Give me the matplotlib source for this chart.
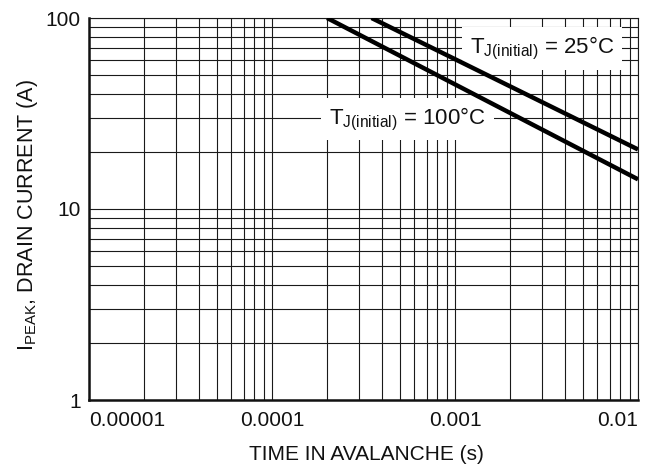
import matplotlib
matplotlib.use("Agg")
import matplotlib.pyplot as plt
from matplotlib.ticker import LogLocator, NullFormatter

plt.rcParams['font.family'] = ['Liberation Sans', 'DejaVu Sans']
plt.rcParams['mathtext.fontset'] = 'custom'
plt.rcParams['mathtext.rm'] = 'Liberation Sans'
plt.rcParams['mathtext.it'] = 'Liberation Sans'

# Data
t_25 = [3.5e-4, 1e-2]
i_25 = [100, 20.5]
t_100 = [2e-4, 1e-2]
i_100 = [100, 14.3]

x_ticks = [1e-5, 1e-4, 1e-3, 1e-2]
x_tick_labels = ["0.00001", "0.0001", "0.001", "0.01"]
y_ticks = [1, 10, 100]
y_tick_labels = ["1", "10", "100"]

label_25 = r"$\mathregular{T_{J(initial)}}$ = 25°C"
label_100 = r"$\mathregular{T_{J(initial)}}$ = 100°C"

fig = plt.figure(figsize=(6.55, 4.71), dpi=100)
ax = fig.add_axes([89/655, 71/471, 549/655, 382/471])
ax.set_xscale('log')
ax.set_yscale('log')
ax.set_xlim(1e-5, 1e-2)
ax.set_ylim(1, 100)

gc = '#1a1a1a'
ax.xaxis.set_minor_locator(LogLocator(base=10, subs=range(2, 10), numticks=20))
ax.yaxis.set_minor_locator(LogLocator(base=10, subs=range(2, 10), numticks=20))
ax.xaxis.set_minor_formatter(NullFormatter())
ax.yaxis.set_minor_formatter(NullFormatter())
ax.grid(True, which='both', color=gc, linewidth=0.8)
ax.set_axisbelow(True)

ax.set_xticks(x_ticks, x_tick_labels)
ax.set_yticks(y_ticks, y_tick_labels)
ax.tick_params(which='both', length=0)
ax.tick_params(axis='x', pad=8, labelsize=15, colors='#111111')
ax.tick_params(axis='y', pad=6, labelsize=15, colors='#111111')
xl = ax.get_xticklabels()
xl[0].set_horizontalalignment('left')
xl[-1].set_horizontalalignment('right')

for s in ['left', 'bottom']:
    ax.spines[s].set_linewidth(1.8)
    ax.spines[s].set_color('#111111')
for s in ['top', 'right']:
    ax.spines[s].set_linewidth(0.8)
    ax.spines[s].set_color(gc)

ax.plot(t_25, i_25, color='black', linewidth=3.2, zorder=5, solid_capstyle='butt')
ax.plot(t_100, i_100, color='black', linewidth=3.2, zorder=5, solid_capstyle='butt')

bbox = dict(boxstyle='square,pad=0.35', facecolor='white', edgecolor='none')
ax.text(2.98e-3, 69, label_25, fontsize=16, ha='center', va='center',
        bbox=bbox, zorder=3, color='#111111')
ax.text(5.5e-4, 29.6, label_100, fontsize=16, ha='center', va='center',
        bbox=bbox, zorder=3, color='#111111')

ax.set_xlabel("TIME IN AVALANCHE (s)", fontsize=15, color='#111111')
ax.xaxis.set_label_coords(0.506, -0.118)
ax.set_ylabel(r"$\mathregular{I_{PEAK}}$, DRAIN CURRENT (A)", fontsize=15.5,
              color='#111111')
ax.yaxis.set_label_coords(-0.089, 0.485)

fig.savefig("out.png", dpi=100)
